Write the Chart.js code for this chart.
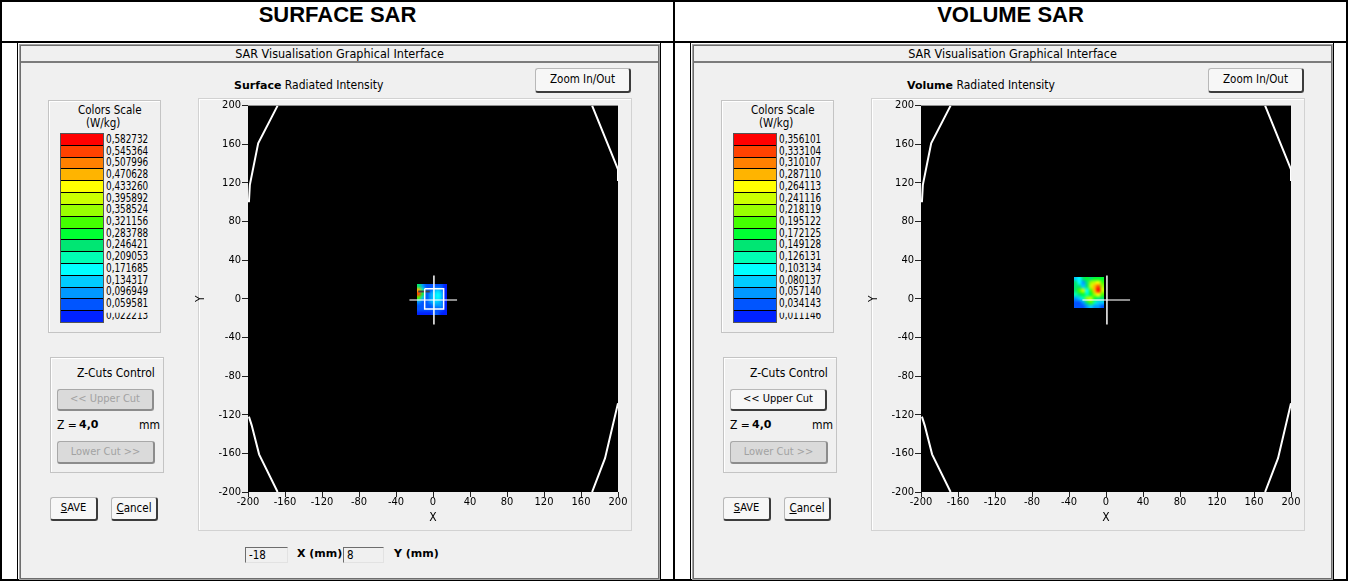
<!DOCTYPE html>
<html>
<head>
<meta charset="utf-8">
<title>SAR</title>
<script src="https://cdn.jsdelivr.net/npm/chart.js@4.4.1/dist/chart.umd.min.js"></script>
<style>
  body { margin: 0; width: 1348px; height: 581px; position: relative; overflow: hidden; background: #fff;
         font-family: "DejaVu Sans Condensed", "Liberation Sans Narrow", sans-serif; font-size: 12px; color: #000; }
  .frame { position: absolute; left: 0; top: 0; width: 1348px; height: 581px; border: 2px solid #000; box-sizing: border-box; }
  .hline { position: absolute; left: 0; top: 41px; width: 1348px; height: 2px; background: #000; }
  .vline { position: absolute; left: 673px; top: 0; width: 2px; height: 581px; background: #000; }
  .panel { position: absolute; top: 0; width: 674px; height: 581px; }
  .head { position: absolute; left: 2px; top: 2px; width: 671px; height: 39px; line-height: 33px; text-align: center;
          font: bold 22px "Liberation Sans", Arial, sans-serif; }
  .cellline { position: absolute; top: 43px; width: 1px; height: 538px; background: #000; }
  .win { position: absolute; left: 19px; top: 44px; width: 641px; height: 536px; box-sizing: border-box; background: #f0f0f0;
         border: 1px solid #a2a2a2; box-shadow: inset 1px 1px 0 #6e6e6e, inset -1px -1px 0 #6e6e6e; }
  .wtitle { position: absolute; left: 1px; right: 1px; top: 1px; height: 15px; line-height: 15px; text-align: center;
            border-bottom: 2px solid #7c7c7c; font-size: 12.5px; }
  .t { position: absolute; white-space: nowrap; line-height: 16px; }
  .bold { font: bold 11px "DejaVu Sans", sans-serif; }
  .btn { position: absolute; box-sizing: border-box; background: #f7f7f7; text-align: center; white-space: nowrap; font-size: 11.5px;
         border: 1px solid #b8b8b8; border-right: 2px solid #3c3c3c; border-bottom: 2px solid #3c3c3c; border-radius: 3px; }
  .btn.off { background: #dadada; color: #a2a2a2; border-color: #a8a8a8; border-right-color: #8c8c8c; border-bottom-color: #8c8c8c; }
  .box { position: absolute; box-sizing: border-box; border: 1px solid #c4c4c4; box-shadow: inset 1px 1px 0 #fff; }
  .bar { position: absolute; left: 60px; top: 133px; width: 44px; height: 190px; box-sizing: border-box;
         border: 1px solid #555; background: #000; display: flex; flex-direction: column; }
  .sw { flex: 1; margin: 0 0 1px 0; }
  .sw:last-child { margin-bottom: 0; }
  .lbl { position: absolute; left: 106px; width: 50px; height: 11.72px; line-height: 11.72px; font-size: 12px; background: #f0f0f0; overflow: hidden; }
  .lbl span { display: inline-block; transform: scaleX(0.82); transform-origin: 0 50%; }
  .plot { position: absolute; left: 198px; top: 98px; width: 434px; height: 433px; box-sizing: border-box;
          border: 1px solid #d2d2d2; box-shadow: inset 1px 1px 0 #fff; }
  canvas { position: absolute; left: 190px; top: 98px; }
  .inp { position: absolute; top: 547px; height: 16px; box-sizing: border-box; font-size: 11.5px; line-height: 14px; padding-left: 3px;
         border-top: 1px solid #6d6d6d; border-left: 1px solid #6d6d6d; border-right: 1px solid #e2e2e2; border-bottom: 1px solid #e2e2e2; }
</style>
</head>
<body>
<div class="frame"></div>
<div class="hline"></div>
<div class="vline"></div>
<div id="left" class="panel" style="left:0"></div>
<div id="right" class="panel" style="left:673px"></div>
<script>
// axis ticks (mm)
const axisTicks = [-200, -160, -120, -80, -40, 0, 40, 80, 120, 160, 200];

// colour scale, top to bottom
const scaleColors = ["#ff0000", "#ff4200", "#ff8000", "#ffb400", "#ffff00", "#ccff00", "#99ff00", "#44ff00",
  "#00ff33", "#00e673", "#00ffb3", "#00ffff", "#00ccff", "#0099ff", "#0055ff", "#0022ff"];
const surfaceScale = ["0,582732", "0,545364", "0,507996", "0,470628", "0,433260", "0,395892", "0,358524", "0,321156",
  "0,283788", "0,246421", "0,209053", "0,171685", "0,134317", "0,096949", "0,059581", "0,022213"];
const volumeScale = ["0,356101", "0,333104", "0,310107", "0,287110", "0,264113", "0,241116", "0,218119", "0,195122",
  "0,172125", "0,149128", "0,126131", "0,103134", "0,080137", "0,057140", "0,034143", "0,011146"];

// SAR zoom scans (W/kg), rows from top (max y) to bottom, columns from min x
const surfaceSpanX = [-17, 15];
const surfaceSpanY = [-17, 15];
const surfaceGrid = [
  [0.25, 0.12, 0.07, 0.07, 0.08, 0.09, 0.08, 0.04],
  [0.50, 0.22, 0.08, 0.09, 0.12, 0.14, 0.12, 0.04],
  [0.58, 0.30, 0.09, 0.12, 0.15, 0.18, 0.14, 0.04],
  [0.35, 0.15, 0.08, 0.12, 0.17, 0.20, 0.15, 0.04],
  [0.10, 0.08, 0.08, 0.11, 0.15, 0.17, 0.13, 0.04],
  [0.07, 0.07, 0.07, 0.09, 0.11, 0.12, 0.10, 0.04],
  [0.06, 0.06, 0.06, 0.07, 0.08, 0.08, 0.07, 0.03],
  [0.05, 0.05, 0.05, 0.05, 0.06, 0.06, 0.05, 0.03]
];
const volumeSpanX = [-35, -2];
const volumeSpanY = [-10, 23];
const volumeGrid = [
  [0.10, 0.12, 0.17, 0.18, 0.17, 0.18, 0.19, 0.18],
  [0.16, 0.11, 0.08, 0.17, 0.22, 0.26, 0.28, 0.20],
  [0.17, 0.15, 0.10, 0.17, 0.25, 0.30, 0.34, 0.24],
  [0.16, 0.20, 0.26, 0.12, 0.20, 0.30, 0.36, 0.25],
  [0.14, 0.16, 0.18, 0.13, 0.19, 0.24, 0.27, 0.20],
  [0.07, 0.09, 0.14, 0.22, 0.26, 0.18, 0.16, 0.15],
  [0.05, 0.05, 0.08, 0.15, 0.20, 0.13, 0.10, 0.09],
  [0.04, 0.04, 0.05, 0.07, 0.09, 0.07, 0.06, 0.05]
];

// phantom outline (mm)
const outlineTopLeft = [[-168, 200], [-189, 161], [-198, 118], [-199, 100]];
const outlineTopRight = [[172, 200], [200, 134], [200, 122]];
const outlineBottomLeft = [[-199, -122], [-196, -131], [-188, -161], [-168, -200]];
const outlineBottomRight = [[200, -108], [186, -165], [172, -200]];

// cursor marks (mm)
const crossV = [[1, 24], [1, -26.5]];
const crossH = [[-25.5, -1.2], [26, -1.2]];
const surfaceSquare = [[-9, 10.5], [11.5, 10.5], [11.5, -10.5], [-9, -10.5], [-9, 10.5]];
const surfaceCursor = [[-16, 7.6], [-3.5, 7.6]];

const NARROW = '"DejaVu Sans Condensed", "Liberation Sans Narrow", sans-serif';

function num(label) {
  return parseFloat(label.replace(",", "."));
}

function colorFor(v, labels) {
  const low = num(labels[labels.length - 1]);
  const step = (num(labels[0]) - low) / (labels.length - 1);
  let idx = Math.floor((v - low) / step);
  idx = Math.max(0, Math.min(labels.length - 1, idx));
  return scaleColors[labels.length - 1 - idx];
}

function gridImage(grid, labels) {
  const off = document.createElement("canvas");
  off.width = grid[0].length;
  off.height = grid.length;
  const octx = off.getContext("2d");
  grid.forEach((row, r) => row.forEach((v, c) => {
    octx.fillStyle = colorFor(v, labels);
    octx.fillRect(c, r, 1, 1);
  }));
  return off;
}

function patchPlugin(grid, spanX, spanY, labels) {
  const img = gridImage(grid, labels);
  return {
    id: "sarPatch",
    beforeDatasetsDraw(chart) {
      const { ctx, chartArea: a, scales: { x, y } } = chart;
      ctx.save();
      ctx.fillStyle = "#000";
      ctx.fillRect(a.left, a.top, a.right - a.left, a.bottom - a.top);
      const left = x.getPixelForValue(spanX[0]);
      const right = x.getPixelForValue(spanX[1]);
      const top = y.getPixelForValue(spanY[1]);
      const bottom = y.getPixelForValue(spanY[0]);
      ctx.imageSmoothingEnabled = true;
      ctx.imageSmoothingQuality = "high";
      ctx.drawImage(img, left, top, right - left, bottom - top);
      ctx.restore();
    }
  };
}

function line(points, color, width) {
  return {
    data: points.map(([x, y]) => ({ x, y })),
    showLine: true,
    borderColor: color,
    borderWidth: width,
    pointRadius: 0,
    fill: false,
    tension: 0
  };
}

function axis(pos, title) {
  return {
    type: "linear",
    position: pos,
    min: -200,
    max: 200,
    afterBuildTicks: (s) => { s.ticks = axisTicks.map((value) => ({ value })); },
    afterFit: (s) => { if (pos === "bottom") s.height = 39; else s.width = 58; },
    ticks: { autoSkip: false, maxRotation: 0, padding: pos === "bottom" ? -1 : 1, color: "#000",
             font: { family: NARROW, size: 11 } },
    grid: { drawOnChartArea: false, drawTicks: true, tickLength: pos === "bottom" ? 5 : 6, color: "#222", lineWidth: 1 },
    border: { display: false },
    title: { display: true, text: title, color: "#000", font: { family: NARROW, size: 12 },
             padding: pos === "bottom" ? { top: 0, bottom: 6 } : { top: 4, bottom: 0 } }
  };
}

function makeChart(canvas, grid, spanX, spanY, labels, extra) {
  const datasets = [
    line(outlineTopLeft, "#fff", 2),
    line(outlineTopRight, "#fff", 2),
    line(outlineBottomLeft, "#fff", 2),
    line(outlineBottomRight, "#fff", 2),
    ...extra,
    line(crossH, "rgba(255,255,255,0.55)", 2),
    line(crossV, "#fff", 1.5)
  ];
  return new Chart(canvas, {
    type: "scatter",
    data: { datasets },
    options: {
      responsive: false,
      animation: false,
      layout: { padding: { top: 7, right: 14, left: 0, bottom: 0 } },
      plugins: { legend: { display: false }, tooltip: { enabled: false } },
      scales: { x: axis("bottom", "X"), y: axis("left", "Y") }
    },
    plugins: [patchPlugin(grid, spanX, spanY, labels)]
  });
}

function scaleHtml(labels) {
  const sw = scaleColors.map((c) => `<div class="sw" style="background:${c}"></div>`).join("");
  const lb = labels.map((l, i) => {
    const top = 134 + i * 11.72;
    const clip = i === labels.length - 1 ? "clip-path:inset(3px 0 0 0);" : "";
    return `<div class="lbl" style="top:${top}px;${clip}"><span>${l}</span></div>`;
  }).join("");
  return `<div class="bar">${sw}</div>${lb}`;
}

function buildPanel(el, o) {
  el.innerHTML = `
    <div class="head">${o.head}</div>
    <div class="cellline" style="left:17px"></div>
    <div class="cellline" style="left:660px"></div>
    <div class="win"><div class="wtitle">SAR Visualisation Graphical Interface</div></div>
    <div class="t" style="left:234px;top:77px"><span class="bold">${o.kind}</span> Radiated Intensity</div>
    <div class="btn" style="left:535px;top:68px;width:96px;height:25px;line-height:21px">Zoom In/Out</div>
    <div class="box" style="left:48px;top:100px;width:113px;height:233px"></div>
    <div class="t" style="left:78px;top:102px;font-size:11.5px">Colors Scale</div>
    <div class="t" style="left:86px;top:115px;font-size:11.5px">(W/kg)</div>
    ${scaleHtml(o.labels)}
    <div class="box" style="left:50px;top:357px;width:114px;height:116px"></div>
    <div class="t" style="left:77px;top:365px">Z-Cuts Control</div>
    <div class="btn${o.upperOff ? " off" : ""}" style="left:57px;top:389px;width:97px;height:22px;line-height:18px;font-size:11px">&lt;&lt; Upper Cut</div>
    <div class="t" style="left:57px;top:417px">Z =</div>
    <div class="t bold" style="left:79px;top:417px;line-height:16px">4,0</div>
    <div class="t" style="left:139px;top:417px">mm</div>
    <div class="btn off" style="left:57px;top:441px;width:98px;height:23px;line-height:19px;font-size:11px">Lower Cut &gt;&gt;</div>
    <div class="btn" style="left:50px;top:497px;width:48px;height:24px;line-height:20px;font-size:11px"><u>S</u>AVE</div>
    <div class="btn" style="left:111px;top:497px;width:47px;height:24px;line-height:20px"><u>C</u>ancel</div>
    <div class="plot"></div>
    <canvas width="442" height="433"></canvas>
    ${o.cursor ? `
    <div class="inp" style="left:245px;width:43px">${o.cursor[0]}</div>
    <div class="t bold" style="left:297px;top:547px">X (mm)</div>
    <div class="inp" style="left:343px;width:41px">${o.cursor[1]}</div>
    <div class="t bold" style="left:394px;top:547px">Y (mm)</div>` : ""}
  `;
  return el.querySelector("canvas");
}

const surfaceCanvas = buildPanel(document.getElementById("left"), {
  head: "SURFACE SAR", kind: "Surface", labels: surfaceScale, upperOff: true, cursor: ["-18", "8"]
});
const volumeCanvas = buildPanel(document.getElementById("right"), {
  head: "VOLUME SAR", kind: "Volume", labels: volumeScale, upperOff: false, cursor: null
});

makeChart(surfaceCanvas, surfaceGrid, surfaceSpanX, surfaceSpanY, surfaceScale, [
  line(surfaceSquare, "#fff", 1.5),
  line(surfaceCursor, "#444", 2)
]);
makeChart(volumeCanvas, volumeGrid, volumeSpanX, volumeSpanY, volumeScale, []);
</script>
</body>
</html>
